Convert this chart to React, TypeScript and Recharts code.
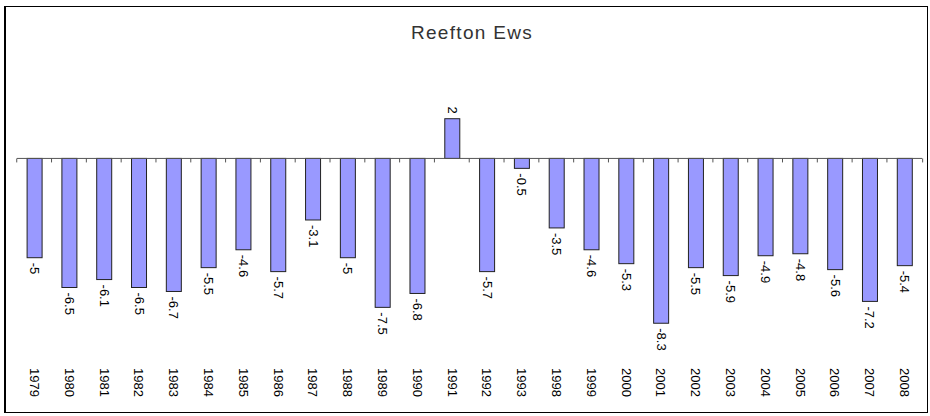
import { Bar, BarChart, LabelList, ReferenceLine, XAxis, YAxis } from "recharts";

const years = [
  "1979", "1980", "1981", "1982", "1983", "1984", "1985", "1986", "1987",
  "1988", "1989", "1990", "1991", "1992", "1993", "1998", "1999", "2000",
  "2001", "2002", "2003", "2004", "2005", "2006", "2007", "2008",
];

const values = [
  -5, -6.5, -6.1, -6.5, -6.7, -5.5, -4.6, -5.7, -3.1, -5, -7.5, -6.8, 2, -5.7,
  -0.5, -3.5, -4.6, -5.3, -8.3, -5.5, -5.9, -4.9, -4.8, -5.6, -7.2, -5.4,
];

const title = "Reefton Ews";

const data = years.map((year, i) => ({ year, value: values[i] }));

const GAP = 0.29;
const barFill = "#9999ff";
const barStroke = "#222";
const axisColor = "#555";
const font = "'Liberation Sans', Arial, sans-serif";

function BarWithTicks(props: any) {
  const { x, y, width, height, index, value } = props;
  const top = Math.min(y, y + height);
  const bottom = Math.max(y, y + height);
  const v = Array.isArray(value) ? value[1] - value[0] : value;
  const zeroY = v < 0 ? top : bottom;
  const gapPx = (width * GAP) / (1 - 2 * GAP);
  const leftTick = x - gapPx;
  const rightTick = x + width + gapPx;
  return (
    <g>
      <line x1={leftTick} x2={leftTick} y1={zeroY} y2={zeroY + 4} stroke={axisColor} />
      {index === data.length - 1 && (
        <line x1={rightTick} x2={rightTick} y1={zeroY} y2={zeroY + 4} stroke={axisColor} />
      )}
      <rect
        x={x}
        y={top}
        width={width}
        height={bottom - top}
        fill={barFill}
        stroke={barStroke}
        strokeWidth={1}
      />
    </g>
  );
}

function ValueLabel(props: any) {
  const { x, y, width, height, value } = props;
  const top = Math.min(y, y + height);
  const bottom = Math.max(y, y + height);
  const cx = x + width / 2;
  const neg = value < 0;
  const ly = neg ? bottom + 5 : top - 5;
  return (
    <text
      x={cx}
      y={ly}
      transform={`rotate(90, ${cx}, ${ly})`}
      textAnchor={neg ? "start" : "end"}
      dominantBaseline="central"
      fontSize={13}
      fontFamily={font}
      fill="#000"
    >
      {value}
    </text>
  );
}

function YearTick(props: any) {
  const { x, y, payload } = props;
  const ty = y + 11;
  return (
    <text
      x={x}
      y={ty}
      transform={`rotate(90, ${x}, ${ty})`}
      textAnchor="start"
      dominantBaseline="central"
      fontSize={13}
      fontFamily={font}
      fill="#000"
    >
      {payload.value}
    </text>
  );
}

export default function App() {
  return (
    <div style={{ position: "absolute", left: 0, top: 0, width: 930, height: 416, background: "#fff" }}>
      <div
        style={{
          position: "absolute",
          left: 4,
          top: 6,
          width: 924,
          height: 407,
          border: "1px solid #000",
          borderLeftWidth: 2,
          boxSizing: "border-box",
        }}
      />
      <div
        style={{
          position: "absolute",
          left: 20,
          width: 904,
          top: 22,
          textAlign: "center",
          fontFamily: font,
          fontSize: 19,
          letterSpacing: 1.3,
          color: "#333",
        }}
      >
        {title}
      </div>
      <div style={{ position: "absolute", left: 0, top: 0 }}>
        <BarChart
          width={930}
          height={416}
          data={data}
          margin={{ top: 79, right: 8, bottom: 0, left: 17 }}
          barCategoryGap={`${GAP * 100}%`}
        >
          <XAxis
            dataKey="year"
            height={59}
            axisLine={false}
            tickLine={false}
            tickSize={0}
            tickMargin={0}
            interval={0}
            tick={<YearTick />}
          />
          <YAxis hide domain={[-10, 4]} />
          <ReferenceLine y={0} stroke={axisColor} strokeWidth={1} />
          <Bar dataKey="value" shape={<BarWithTicks />} isAnimationActive={false}>
            <LabelList dataKey="value" content={<ValueLabel />} />
          </Bar>
        </BarChart>
      </div>
    </div>
  );
}
